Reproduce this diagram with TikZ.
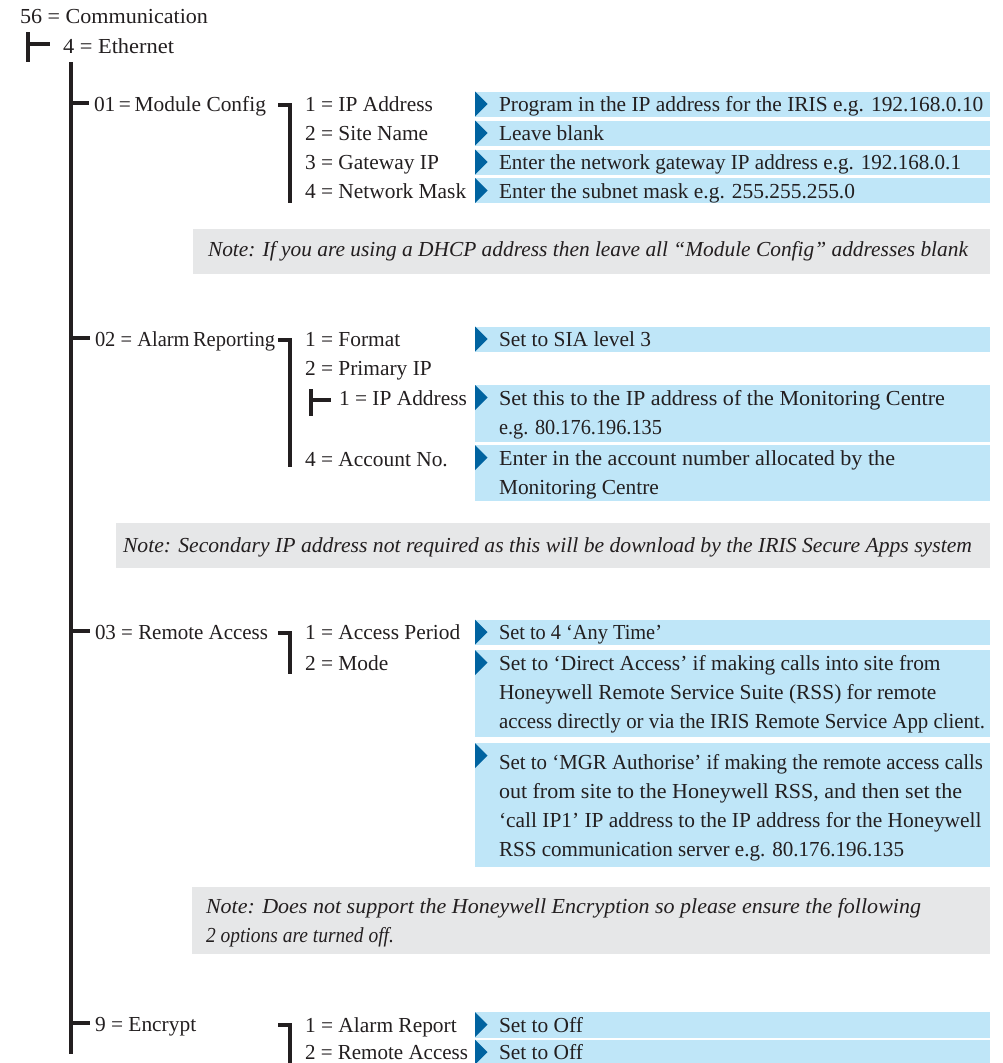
\documentclass[tikz,border=0pt]{standalone}
\usepackage{fontspec}
\setmainfont{Liberation Serif}
\usepackage{graphicx}
\definecolor{boxblue}{RGB}{191,230,248}
\definecolor{markblue}{RGB}{0,99,160}
\definecolor{notegray}{RGB}{230,231,232}
\definecolor{ink}{RGB}{35,31,32}
\newcommand\fsz{\fontsize{21.4}{29}\selectfont}
\newcommand\fitw[2]{\resizebox{#1pt}{\height}{#2}}
\newcommand\descrow[5]{%
  \node[bluebox, minimum height=#3] (#1) at (475,#2) {};
  \fill[marker] (#1.north west) -- ++(12.5,12.5) -- ++(-12.5,12.5) -- cycle;
  \node[desc] (#1t) at ([xshift=24pt,yshift=-#4pt]#1.north west) {\strut #5};
}
\begin{document}
\begin{tikzpicture}[x=1pt,y=-1pt,
  lbl/.style={anchor=base west, inner sep=0, outer sep=0, font=\fsz, text=ink},
  desc/.style={anchor=north west, inner sep=0, outer sep=0, align=left, font=\fsz, text=ink},
  bluebox/.style={fill=boxblue, anchor=north west, inner sep=0, outer sep=0, minimum width=515},
  notebox/.style={fill=notegray, anchor=north west, inner sep=0, outer sep=0},
  notetxt/.style={anchor=base west, inner sep=0, outer sep=0, font=\fsz\itshape, text=ink},
  tree/.style={draw=ink, line width=4},
  marker/.style={fill=markblue}]
\path[use as bounding box, fill=white] (0,0) rectangle (1003,1063);

% ---------- description boxes ----------
\descrow{d11}{91.5}{25}{0}{Program in the IP address for the IRIS e.g. 192.168.0.10}
\descrow{d12}{120.5}{25}{0}{Leave blank}
\descrow{d13}{149.5}{25}{0}{\fitw{462}{Enter the network gateway IP address e.g. 192.168.0.1}}
\descrow{d14}{178}{25}{0}{Enter the subnet mask e.g. 255.255.255.0}
\descrow{d21}{326.5}{25.5}{0}{Set to SIA level 3}
\descrow{d22}{385}{57}{0}{\fitw{446}{Set this to the IP address of the Monitoring Centre}\\\fitw{163}{e.g. 80.176.196.135}}
\descrow{d23}{445}{56}{0}{\fitw{396}{Enter in the account number allocated by the}\\Monitoring Centre}
\descrow{d31}{619.5}{25}{0}{\fitw{163}{Set to 4 ‘Any Time’}}
\descrow{d32}{650}{86.5}{0}{Set to ‘Direct Access’ if making calls into site from\\Honeywell Remote Service Suite (RSS) for remote\\\fitw{486}{access directly or via the IRIS Remote Service App client.}}
\descrow{d33}{743}{123.5}{6.5}{\fitw{484}{Set to ‘MGR Authorise’ if making the remote access calls}\\\fitw{463}{out from site to the Honeywell RSS, and then set the}\\‘call IP1’ IP address to the IP address for the Honeywell\\\fitw{405}{RSS communication server e.g. 80.176.196.135}}
\descrow{d91}{1012}{25.5}{0}{Set to Off}
\descrow{d92}{1039.5}{23.5}{0}{Set to Off}

% ---------- notes ----------
\node[notebox, minimum width=797, minimum height=45.5] (nb1) at (193,228.5) {};
\node[notetxt] (nt1) at (208,256) {\fitw{760}{Note: If you are using a DHCP address then leave all “Module Config” addresses blank}};
\node[notebox, minimum width=874, minimum height=44.5] (nb2) at (116,523) {};
\node[notetxt] (nt2) at (123,552.5) {\fitw{849}{Note: Secondary IP address not required as this will be download by the IRIS Secure Apps system}};
\node[notebox, minimum width=798, minimum height=67.5] (nb3) at (192,886.5) {};
\node[notetxt, align=left, anchor=north west] (nt3) at (206,892.7) {\strut\fitw{715}{Note: Does not support the Honeywell Encryption so please ensure the following}\\\fitw{188}{2 options are turned off.}};

% ---------- labels ----------
\node[lbl] (n56) at (20,23) {\fitw{188}{56 = Communication}};
\node[lbl] (n4) at (63,53) {\fitw{111}{4 = Ethernet}};
\node[lbl] (n01) at (94,111.8) {01\,=\,Module Config};
\node[lbl] (i11) at (305,111.8) {1 = IP Address};
\node[lbl] (i12) at (305,140.8) {2 = Site Name};
\node[lbl] (i13) at (305,169.8) {3 = Gateway IP};
\node[lbl] (i14) at (305,198.3) {4 = Network Mask};
\node[lbl] (n02) at (95,346.8) {\fitw{180}{02 = Alarm\,Reporting}};
\node[lbl] (i21) at (305,346.8) {1 = Format};
\node[lbl] (i22) at (305,375.8) {2 = Primary IP};
\node[lbl] (i221) at (339,405.3) {1 = IP Address};
\node[lbl] (i24) at (305,466.3) {4 = Account No.};
\node[lbl] (n03) at (95,639.8) {\fitw{173}{03 = Remote Access}};
\node[lbl] (i31) at (305,639.8) {1 = Access Period};
\node[lbl] (i32) at (305,670.3) {2 = Mode};
\node[lbl] (n9) at (95,1031) {9 = Encrypt};
\node[lbl] (i91) at (305,1032.3) {1 = Alarm Report};
\node[lbl] (i92) at (305,1059.6) {\fitw{163}{2 = Remote Access}};

% ---------- tree lines ----------
\coordinate (tT) at ([xshift=-35.5pt,yshift=21pt]n4.base west);
\coordinate (tB) at ([xshift=-35.5pt,yshift=-9pt]n4.base west);
\coordinate (tM) at ([xshift=-13pt,yshift=9pt]n4.base west);
\draw[tree] (tT) -- (tB);
\draw[tree] (tT |- tM) -- (tM);

\coordinate (trT) at (70.5,62);
\coordinate (trB) at (70.5,1054);
\draw[tree] (trT) -- (trB);
\foreach \n in {n01,n02,n03,n9}{
  \coordinate (s\n) at ([xshift=-5pt,yshift=8.5pt]\n.base west);
  \draw[tree] (trT |- s\n) -- (s\n);
}

\coordinate (k01) at ([xshift=-27pt,yshift=7pt]i11.base west);
\coordinate (k01e) at ([xshift=-15.5pt,yshift=-4.5pt]i14.base west);
\draw[tree] (k01) -| (k01e);
\coordinate (k02) at ([xshift=-27pt,yshift=7pt]i21.base west);
\coordinate (k02e) at ([xshift=-15.5pt,yshift=-0.7pt]i24.base west);
\draw[tree] (k02) -| (k02e);
\coordinate (k03) at ([xshift=-27pt,yshift=7pt]i31.base west);
\coordinate (k03e) at ([xshift=-15.5pt,yshift=-3.7pt]i32.base west);
\draw[tree] (k03) -| (k03e);
\coordinate (k9) at ([xshift=-27pt,yshift=7pt]i91.base west);
\coordinate (k9e) at ([xshift=-15.5pt,yshift=-4pt]i92.base west);
\draw[tree] (k9) -| (k9e);

\coordinate (u1) at ([xshift=-28.5pt,yshift=16.3pt]i221.base west);
\coordinate (u2) at ([xshift=-28.5pt,yshift=-10.7pt]i221.base west);
\coordinate (u3) at ([xshift=-8pt,yshift=5.3pt]i221.base west);
\draw[tree] (u1) -- (u2);
\draw[tree] (u1 |- u3) -- (u3);
\end{tikzpicture}
\end{document}
